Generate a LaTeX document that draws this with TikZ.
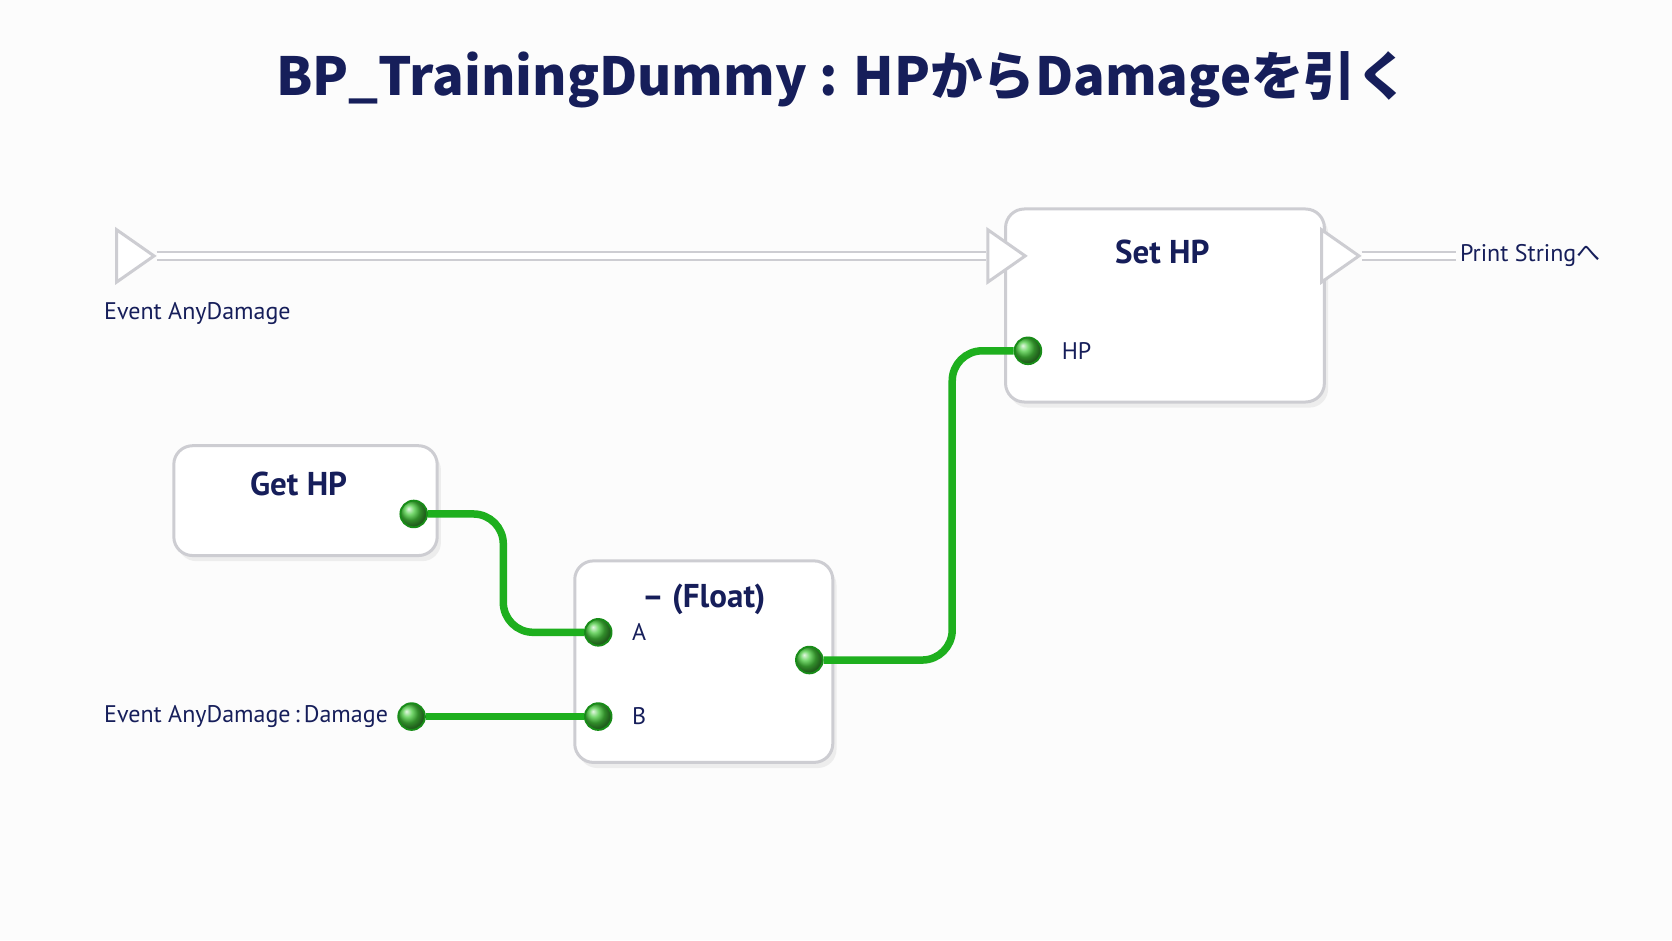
\documentclass[tikz,border=0pt]{standalone}
\usepackage{fontspec}
\setmainfont{PT Sans}
\newfontfamily\cjk{Noto Sans CJK JP}
\usetikzlibrary{calc, positioning, shapes.geometric, shadows}
\definecolor{navy}{RGB}{22,30,90}
\definecolor{pingreen}{RGB}{70,200,60}
\definecolor{wiregreen}{RGB}{30,175,30}
\definecolor{edgegray}{RGB}{205,205,210}
\tikzset{
  bpnode/.style={draw=edgegray, line width=0.8pt, fill=white, rounded corners=5pt,
    drop shadow={shadow xshift=1pt, shadow yshift=-1.5pt, fill=black!12}},
  bptitle/.style={navy, font=\bfseries\fontsize{8.8}{10}\selectfont},
  pinlabel/.style={navy, font=\fontsize{6.4}{8}\selectfont},
  datapin/.style={circle, draw=wiregreen!80!black, line width=0.5pt, inner sep=0pt,
    minimum size=0.25cm, ball color=pingreen, shading=ball},
  execpin/.style={isosceles triangle, isosceles triangle apex angle=70, draw=edgegray,
    fill=white, line width=0.8pt, inner sep=0pt, minimum height=0.35cm, minimum width=0.44cm},
  execwire/.style={draw=edgegray, double=white, double distance=1.6pt, line width=0.6pt},
  wire/.style={wiregreen, line width=2pt, rounded corners=8pt},
}
\begin{document}
\begin{tikzpicture}[x=0.01cm, y=-0.01cm]
    \fill[black!1] (0,0) rectangle (1568,882);
    \useasboundingbox (0,0) rectangle (1568,882);

    % Title
    \node[navy, font=\cjk\bfseries\fontsize{14}{16}\selectfont] (title) at (790,75)
      {BP\_TrainingDummy : HPからDamageを引く};

    % Boxes
    \draw[bpnode] (943,196) rectangle (1242,377);
    \draw[bpnode] (163,418) rectangle (410,521);
    \draw[bpnode] (539,526) rectangle (781,715);
    \node[bptitle] (setHP) at (1090,236) {Set HP};
    \node[bptitle] (getHP) at (280,454) {Get HP};
    \node[bptitle] (subF) at (660,562) {– (Float)};

    % Exec pins
    \node[execpin, anchor=west] (evExec) at (108,240) {};
    \node[execpin, anchor=west] (setIn) at (925,240) {};
    \node[execpin, anchor=west] (setOut) at (1238,240) {};
    \coordinate (printEnd) at (1365,240);
    \draw[execwire] (evExec.apex) -- (setIn.west);
    \draw[execwire] (setOut.apex) -- (printEnd);
    \node[pinlabel, anchor=west, inner sep=1pt] (printLbl) at (printEnd) {Print String{\cjk へ}};
    \node[pinlabel, anchor=west, inner sep=0pt] (evLbl) at (97,294) {Event AnyDamage};

    % Data pins
    \node[datapin] (getOut) at (388,482) {};
    \node[datapin] (pinA) at (561,593) {};
    \node[datapin] (pinB) at (561,672) {};
    \node[datapin] (subOut) at (759,619) {};
    \node[datapin] (pinHP) at (964,329) {};
    \node[datapin] (dmgOut) at (386,672) {};
    \node[pinlabel, right=0.06cm of pinA] (lblA) {A};
    \node[pinlabel, right=0.06cm of pinB] (lblB) {B};
    \node[pinlabel, right=0.06cm of pinHP] (lblHP) {HP};
    \node[pinlabel, anchor=west, inner sep=0pt] (dmgLbl) at (97,672) {Event AnyDamage\,:\,Damage};

    % Wires
    \draw[wire] (getOut.east) -- (472,482) -- (472,593) -- (pinA.west);
    \draw[wire] (dmgOut.east) -- (pinB.west);
    \draw[wire] (subOut.east) -- (893,619) -- (893,329) -- (pinHP.west);
\end{tikzpicture}
\end{document}
